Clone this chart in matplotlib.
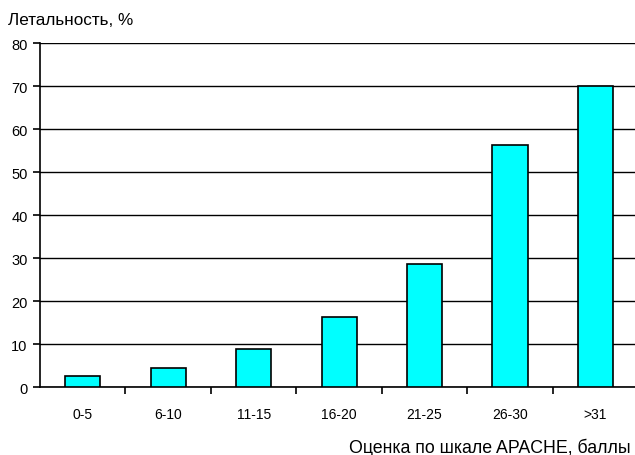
import numpy as np
import matplotlib.pyplot as plt

plt.rcParams["font.family"] = ["Liberation Sans", "DejaVu Sans"]

# APACHE score groups and mortality, %
groups = ["0-5", "6-10", "11-15", "16-20", "21-25", "26-30", ">31"]
mortality = [2.5, 4.5, 8.9, 16.4, 28.6, 56.3, 70.0]
y_ticks = [0, 10, 20, 30, 40, 50, 60, 70, 80]

fig = plt.figure(figsize=(6.35, 4.56), dpi=100)
ax = fig.add_axes([0.063, 0.149, 0.942, 0.7545])

x = np.arange(len(groups))
ax.set_axisbelow(True)
ax.bar(x, mortality, width=0.41, color="#00FFFF", edgecolor="black",
       linewidth=1.2, zorder=3)

ax.set_xlim(-0.5, len(groups) - 0.5)
ax.set_ylim(0, 80)
ax.set_yticks(y_ticks)
ax.yaxis.grid(True, color="black", linewidth=1.0)

# category labels in the middle, short ticks between categories
ax.set_xticks(x)
ax.set_xticklabels(groups, fontsize=10)
ax.set_xticks(np.arange(0.5, len(groups) - 0.5), minor=True)
ax.tick_params(axis="x", which="major", length=0, pad=14)
ax.tick_params(axis="x", which="minor", length=5, width=1.2, direction="out")
ax.tick_params(axis="y", length=5, width=1.2, direction="out", labelsize=10.5, pad=4)

for side in ("top", "right"):
    ax.spines[side].set_visible(False)
ax.spines["left"].set_linewidth(1.2)
ax.spines["bottom"].set_linewidth(1.2)

fig.text(0.013, 0.956, "Летальность, %", fontsize=12.3, ha="left", va="center")
fig.text(0.993, 0.018, "Оценка по шкале APACHE, баллы", fontsize=12.8,
         ha="right", va="center")

fig.savefig("out.png", dpi=100)
